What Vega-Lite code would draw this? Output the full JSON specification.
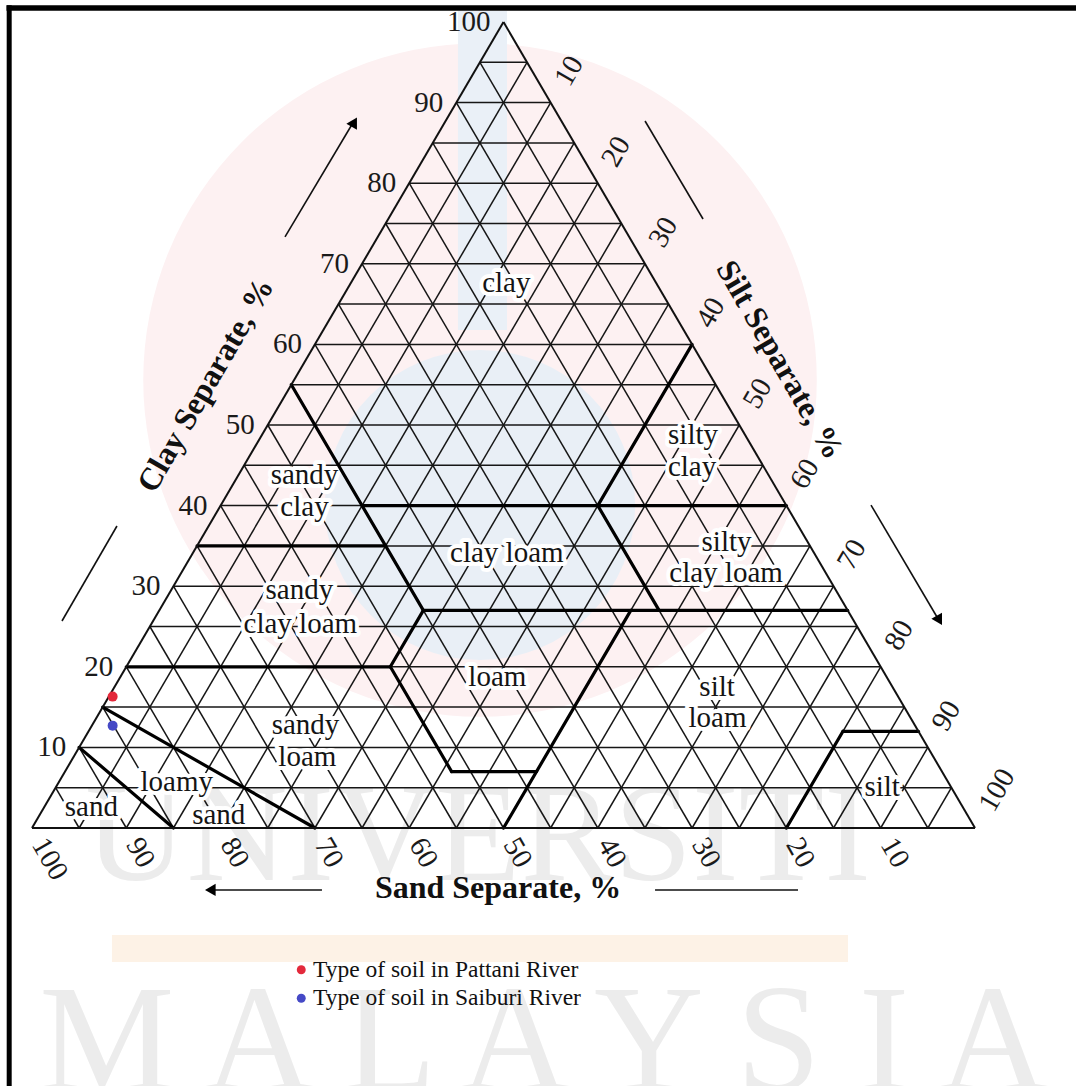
{
  "$schema": "https://vega.github.io/schema/vega-lite/v6.json",
  "width": 1076,
  "height": 1086,
  "padding": 0,
  "autosize": {"type": "none"},
  "background": "white",
  "config": {"view": {"stroke": null}, "text": {"font": "Liberation Serif"}},
  "data": {"values": [{"k": 1}]},
  "datasets": {
    "grid": [
      {"s1": 95, "c1": 5, "s2": 0, "c2": 5}, {"s1": 90, "c1": 10, "s2": 0, "c2": 10}, {"s1": 85, "c1": 15, "s2": 0, "c2": 15},
      {"s1": 80, "c1": 20, "s2": 0, "c2": 20}, {"s1": 75, "c1": 25, "s2": 0, "c2": 25}, {"s1": 70, "c1": 30, "s2": 0, "c2": 30},
      {"s1": 65, "c1": 35, "s2": 0, "c2": 35}, {"s1": 60, "c1": 40, "s2": 0, "c2": 40}, {"s1": 55, "c1": 45, "s2": 0, "c2": 45},
      {"s1": 50, "c1": 50, "s2": 0, "c2": 50}, {"s1": 45, "c1": 55, "s2": 0, "c2": 55}, {"s1": 40, "c1": 60, "s2": 0, "c2": 60},
      {"s1": 35, "c1": 65, "s2": 0, "c2": 65}, {"s1": 30, "c1": 70, "s2": 0, "c2": 70}, {"s1": 25, "c1": 75, "s2": 0, "c2": 75},
      {"s1": 20, "c1": 80, "s2": 0, "c2": 80}, {"s1": 15, "c1": 85, "s2": 0, "c2": 85}, {"s1": 10, "c1": 90, "s2": 0, "c2": 90},
      {"s1": 5, "c1": 95, "s2": 0, "c2": 95},
      {"s1": 5, "c1": 0, "s2": 5, "c2": 95}, {"s1": 10, "c1": 0, "s2": 10, "c2": 90}, {"s1": 15, "c1": 0, "s2": 15, "c2": 85},
      {"s1": 20, "c1": 0, "s2": 20, "c2": 80}, {"s1": 25, "c1": 0, "s2": 25, "c2": 75}, {"s1": 30, "c1": 0, "s2": 30, "c2": 70},
      {"s1": 35, "c1": 0, "s2": 35, "c2": 65}, {"s1": 40, "c1": 0, "s2": 40, "c2": 60}, {"s1": 45, "c1": 0, "s2": 45, "c2": 55},
      {"s1": 50, "c1": 0, "s2": 50, "c2": 50}, {"s1": 55, "c1": 0, "s2": 55, "c2": 45}, {"s1": 60, "c1": 0, "s2": 60, "c2": 40},
      {"s1": 65, "c1": 0, "s2": 65, "c2": 35}, {"s1": 70, "c1": 0, "s2": 70, "c2": 30}, {"s1": 75, "c1": 0, "s2": 75, "c2": 25},
      {"s1": 80, "c1": 0, "s2": 80, "c2": 20}, {"s1": 85, "c1": 0, "s2": 85, "c2": 15}, {"s1": 90, "c1": 0, "s2": 90, "c2": 10},
      {"s1": 95, "c1": 0, "s2": 95, "c2": 5},
      {"s1": 95, "c1": 0, "s2": 0, "c2": 95}, {"s1": 90, "c1": 0, "s2": 0, "c2": 90}, {"s1": 85, "c1": 0, "s2": 0, "c2": 85},
      {"s1": 80, "c1": 0, "s2": 0, "c2": 80}, {"s1": 75, "c1": 0, "s2": 0, "c2": 75}, {"s1": 70, "c1": 0, "s2": 0, "c2": 70},
      {"s1": 65, "c1": 0, "s2": 0, "c2": 65}, {"s1": 60, "c1": 0, "s2": 0, "c2": 60}, {"s1": 55, "c1": 0, "s2": 0, "c2": 55},
      {"s1": 50, "c1": 0, "s2": 0, "c2": 50}, {"s1": 45, "c1": 0, "s2": 0, "c2": 45}, {"s1": 40, "c1": 0, "s2": 0, "c2": 40},
      {"s1": 35, "c1": 0, "s2": 0, "c2": 35}, {"s1": 30, "c1": 0, "s2": 0, "c2": 30}, {"s1": 25, "c1": 0, "s2": 0, "c2": 25},
      {"s1": 20, "c1": 0, "s2": 0, "c2": 20}, {"s1": 15, "c1": 0, "s2": 0, "c2": 15}, {"s1": 10, "c1": 0, "s2": 0, "c2": 10},
      {"s1": 5, "c1": 0, "s2": 0, "c2": 5}
    ],
    "edges": [
      {"s1": 100, "c1": 0, "s2": 0, "c2": 0},
      {"s1": 100, "c1": 0, "s2": 0, "c2": 100},
      {"s1": 0, "c1": 0, "s2": 0, "c2": 100}
    ],
    "bounds": [
      {"s1": 45, "c1": 55, "s2": 45, "c2": 27},
      {"s1": 0, "c1": 60, "s2": 20, "c2": 40},
      {"s1": 45, "c1": 40, "s2": 0, "c2": 40},
      {"s1": 65, "c1": 35, "s2": 45, "c2": 35},
      {"s1": 20, "c1": 40, "s2": 20, "c2": 27},
      {"s1": 45, "c1": 27, "s2": 0, "c2": 27},
      {"s1": 80, "c1": 20, "s2": 52, "c2": 20},
      {"s1": 52, "c1": 20, "s2": 45, "c2": 27},
      {"s1": 52, "c1": 20, "s2": 52, "c2": 7},
      {"s1": 52, "c1": 7, "s2": 43, "c2": 7},
      {"s1": 50, "c1": 0, "s2": 23, "c2": 27},
      {"s1": 20, "c1": 0, "s2": 8, "c2": 12},
      {"s1": 8, "c1": 12, "s2": 0, "c2": 12},
      {"s1": 85, "c1": 15, "s2": 70, "c2": 0},
      {"s1": 90, "c1": 10, "s2": 85, "c2": 0}
    ],
    "classes": [
      {"label": "clay", "sand": 15.9, "clay": 67.6},
      {"label": "sandy", "sand": 49.2, "clay": 43.8},
      {"label": "clay", "sand": 51.2, "clay": 39.8},
      {"label": "silty", "sand": 5.5, "clay": 48.8},
      {"label": "clay", "sand": 7.6, "clay": 44.8},
      {"label": "clay loam", "sand": 32.6, "clay": 34.1},
      {"label": "silty", "sand": 8.6, "clay": 35.5},
      {"label": "clay loam", "sand": 10.6, "clay": 31.6},
      {"label": "sandy", "sand": 56.9, "clay": 29.5},
      {"label": "clay loam", "sand": 58.9, "clay": 25.3},
      {"label": "loam", "sand": 41.3, "clay": 18.7},
      {"label": "silt", "sand": 18.6, "clay": 17.5},
      {"label": "loam", "sand": 20.5, "clay": 13.6},
      {"label": "sandy", "sand": 64.6, "clay": 12.8},
      {"label": "loam", "sand": 66.4, "clay": 8.8},
      {"label": "loamy", "sand": 81.8, "clay": 5.7},
      {"label": "sand", "sand": 92.4, "clay": 2.6},
      {"label": "sand", "sand": 79.4, "clay": 1.6},
      {"label": "silt", "sand": 7.3, "clay": 5.1}
    ],
    "percent": [
      {"pct": 10}, {"pct": 20}, {"pct": 30}, {"pct": 40}, {"pct": 50},
      {"pct": 60}, {"pct": 70}, {"pct": 80}, {"pct": 90}, {"pct": 100}
    ],
    "samples": [
      {"river": "Type of soil in Pattani River", "sand": 83.3, "clay": 16.3},
      {"river": "Type of soil in Saiburi River", "sand": 85.1, "clay": 12.7}
    ]
  },
  "layer": [
    {
      "mark": {"type": "circle", "size": 453646, "color": "#fdf1f2", "opacity": 1},
      "encoding": {
        "x": {"datum": 47.51, "type": "quantitative", "scale": {"domain": [-3.3934, 110.7105], "nice": false, "zero": false}, "axis": null},
        "y": {"datum": 55.58, "type": "quantitative", "scale": {"domain": [-32.0099, 102.7295], "nice": false, "zero": false}, "axis": null}
      }
    },
    {
      "mark": {"type": "rect", "color": "#eaf0f7"},
      "encoding": {
        "x": {"datum": 45.17, "type": "quantitative", "scale": {"domain": [-3.3934, 110.7105], "nice": false, "zero": false}, "axis": null},
        "x2": {"datum": 50.37},
        "y": {"datum": 101.36, "type": "quantitative", "scale": {"domain": [-32.0099, 102.7295], "nice": false, "zero": false}, "axis": null},
        "y2": {"datum": 61.79}
      }
    },
    {
      "mark": {"type": "circle", "size": 96211, "color": "#e9eff6", "opacity": 1},
      "encoding": {
        "x": {"datum": 47.51, "type": "quantitative", "scale": {"domain": [-3.3934, 110.7105], "nice": false, "zero": false}, "axis": null},
        "y": {"datum": 40.07, "type": "quantitative", "scale": {"domain": [-32.0099, 102.7295], "nice": false, "zero": false}, "axis": null}
      }
    },
    {
      "mark": {"type": "rect", "color": "#fdf2e6"},
      "encoding": {
        "x": {"datum": 8.48, "type": "quantitative", "scale": {"domain": [-3.3934, 110.7105], "nice": false, "zero": false}, "axis": null},
        "x2": {"datum": 86.53},
        "y": {"datum": -13.28, "type": "quantitative", "scale": {"domain": [-32.0099, 102.7295], "nice": false, "zero": false}, "axis": null},
        "y2": {"datum": -16.63}
      }
    },
    {
      "mark": {"type": "text", "text": "UNIVERSITI", "fontSize": 140, "color": "#ececec", "align": "center", "baseline": "alphabetic"},
      "encoding": {
        "x": {"datum": 47.3, "type": "quantitative", "scale": {"domain": [-3.3934, 110.7105], "nice": false, "zero": false}, "axis": null},
        "y": {"datum": -6.45, "type": "quantitative", "scale": {"domain": [-32.0099, 102.7295], "nice": false, "zero": false}, "axis": null}
      }
    },
    {
      "mark": {"type": "text", "text": "M A L A Y S I A", "fontSize": 152, "color": "#ececec", "align": "center", "baseline": "alphabetic"},
      "encoding": {
        "x": {"datum": 54.3, "type": "quantitative", "scale": {"domain": [-3.3934, 110.7105], "nice": false, "zero": false}, "axis": null},
        "y": {"datum": -32.51, "type": "quantitative", "scale": {"domain": [-32.0099, 102.7295], "nice": false, "zero": false}, "axis": null}
      }
    },
    {
      "data": {"name": "grid"},
      "transform": [
        {"calculate": "100 - datum.s1 - datum.c1 / 2", "as": "u"},
        {"calculate": "100 - datum.s2 - datum.c2 / 2", "as": "u2"}
      ],
      "mark": {"type": "rule", "color": "#161616", "strokeWidth": 1.5},
      "encoding": {
        "x": {"field": "u", "type": "quantitative", "scale": {"domain": [-3.3934, 110.7105], "nice": false, "zero": false}, "axis": null},
        "y": {"field": "c1", "type": "quantitative", "scale": {"domain": [-32.0099, 102.7295], "nice": false, "zero": false}, "axis": null},
        "x2": {"field": "u2"},
        "y2": {"field": "c2"}
      }
    },
    {
      "data": {"name": "classes"},
      "transform": [{"calculate": "100 - datum.sand - datum.clay / 2", "as": "u"}],
      "mark": {"type": "text", "fontSize": 29, "fill": "white", "stroke": "white", "strokeWidth": 8, "strokeJoin": "round", "align": "center", "baseline": "middle"},
      "encoding": {
        "x": {"field": "u", "type": "quantitative", "scale": {"domain": [-3.3934, 110.7105], "nice": false, "zero": false}, "axis": null},
        "y": {"field": "clay", "type": "quantitative", "scale": {"domain": [-32.0099, 102.7295], "nice": false, "zero": false}, "axis": null},
        "text": {"field": "label"}
      }
    },
    {
      "data": {"name": "bounds"},
      "transform": [
        {"calculate": "100 - datum.s1 - datum.c1 / 2", "as": "u"},
        {"calculate": "100 - datum.s2 - datum.c2 / 2", "as": "u2"}
      ],
      "mark": {"type": "rule", "color": "#000000", "strokeWidth": 3.2, "strokeCap": "round"},
      "encoding": {
        "x": {"field": "u", "type": "quantitative", "scale": {"domain": [-3.3934, 110.7105], "nice": false, "zero": false}, "axis": null},
        "y": {"field": "c1", "type": "quantitative", "scale": {"domain": [-32.0099, 102.7295], "nice": false, "zero": false}, "axis": null},
        "x2": {"field": "u2"},
        "y2": {"field": "c2"}
      }
    },
    {
      "data": {"name": "edges"},
      "transform": [
        {"calculate": "100 - datum.s1 - datum.c1 / 2", "as": "u"},
        {"calculate": "100 - datum.s2 - datum.c2 / 2", "as": "u2"}
      ],
      "mark": {"type": "rule", "color": "#111111", "strokeWidth": 2},
      "encoding": {
        "x": {"field": "u", "type": "quantitative", "scale": {"domain": [-3.3934, 110.7105], "nice": false, "zero": false}, "axis": null},
        "y": {"field": "c1", "type": "quantitative", "scale": {"domain": [-32.0099, 102.7295], "nice": false, "zero": false}, "axis": null},
        "x2": {"field": "u2"},
        "y2": {"field": "c2"}
      }
    },
    {
      "data": {"name": "classes"},
      "transform": [{"calculate": "100 - datum.sand - datum.clay / 2", "as": "u"}],
      "mark": {"type": "text", "fontSize": 29, "color": "#141414", "align": "center", "baseline": "middle"},
      "encoding": {
        "x": {"field": "u", "type": "quantitative", "scale": {"domain": [-3.3934, 110.7105], "nice": false, "zero": false}, "axis": null},
        "y": {"field": "clay", "type": "quantitative", "scale": {"domain": [-32.0099, 102.7295], "nice": false, "zero": false}, "axis": null},
        "text": {"field": "label"}
      }
    },
    {
      "data": {"name": "percent"},
      "transform": [{"calculate": "datum.pct / 2", "as": "u"}],
      "mark": {"type": "text", "fontSize": 29, "color": "#1a1a1a", "align": "right", "baseline": "middle", "dx": -13},
      "encoding": {
        "x": {"field": "u", "type": "quantitative", "scale": {"domain": [-3.3934, 110.7105], "nice": false, "zero": false}, "axis": null},
        "y": {"field": "pct", "type": "quantitative", "scale": {"domain": [-32.0099, 102.7295], "nice": false, "zero": false}, "axis": null},
        "text": {"field": "pct", "type": "quantitative", "format": "d"}
      }
    },
    {
      "data": {"name": "percent"},
      "transform": [
        {"calculate": "50 + datum.pct / 2", "as": "u"},
        {"calculate": "100 - datum.pct", "as": "c"}
      ],
      "mark": {"type": "text", "fontSize": 29, "color": "#1a1a1a", "align": "left", "baseline": "middle", "angle": 300, "dx": 22},
      "encoding": {
        "x": {"field": "u", "type": "quantitative", "scale": {"domain": [-3.3934, 110.7105], "nice": false, "zero": false}, "axis": null},
        "y": {"field": "c", "type": "quantitative", "scale": {"domain": [-32.0099, 102.7295], "nice": false, "zero": false}, "axis": null},
        "text": {"field": "pct", "type": "quantitative", "format": "d"}
      }
    },
    {
      "data": {"name": "percent"},
      "transform": [
        {"calculate": "100 - datum.pct", "as": "u"},
        {"calculate": "0", "as": "c"}
      ],
      "mark": {"type": "text", "fontSize": 29, "color": "#1a1a1a", "align": "left", "baseline": "middle", "angle": 60, "dx": 14},
      "encoding": {
        "x": {"field": "u", "type": "quantitative", "scale": {"domain": [-3.3934, 110.7105], "nice": false, "zero": false}, "axis": null},
        "y": {"field": "c", "type": "quantitative", "scale": {"domain": [-32.0099, 102.7295], "nice": false, "zero": false}, "axis": null},
        "text": {"field": "pct", "type": "quantitative", "format": "d"}
      }
    },
    {
      "mark": {"type": "text", "text": "Clay Separate, %", "fontSize": 32, "fontWeight": "bold", "color": "#111111", "align": "center", "baseline": "middle", "angle": 300},
      "encoding": {
        "x": {"datum": 18.42, "type": "quantitative", "scale": {"domain": [-3.3934, 110.7105], "nice": false, "zero": false}, "axis": null},
        "y": {"datum": 54.94, "type": "quantitative", "scale": {"domain": [-32.0099, 102.7295], "nice": false, "zero": false}, "axis": null}
      }
    },
    {
      "mark": {"type": "text", "text": "Silt Separate, %", "fontSize": 32, "fontWeight": "bold", "color": "#111111", "align": "center", "baseline": "middle", "angle": 60},
      "encoding": {
        "x": {"datum": 79.32, "type": "quantitative", "scale": {"domain": [-3.3934, 110.7105], "nice": false, "zero": false}, "axis": null},
        "y": {"datum": 58.07, "type": "quantitative", "scale": {"domain": [-32.0099, 102.7295], "nice": false, "zero": false}, "axis": null}
      }
    },
    {
      "mark": {"type": "text", "text": "Sand Separate, %", "fontSize": 32, "fontWeight": "bold", "color": "#111111", "align": "center", "baseline": "middle"},
      "encoding": {
        "x": {"datum": 49.42, "type": "quantitative", "scale": {"domain": [-3.3934, 110.7105], "nice": false, "zero": false}, "axis": null},
        "y": {"datum": -7.4, "type": "quantitative", "scale": {"domain": [-32.0099, 102.7295], "nice": false, "zero": false}, "axis": null}
      }
    },
    {
      "mark": {"type": "rule", "color": "#111111", "strokeWidth": 1.6},
      "encoding": {
        "x": {"datum": 26.83, "type": "quantitative", "scale": {"domain": [-3.3934, 110.7105], "nice": false, "zero": false}, "axis": null}, "x2": {"datum": 34.15},
        "y": {"datum": 73.33, "type": "quantitative", "scale": {"domain": [-32.0099, 102.7295], "nice": false, "zero": false}, "axis": null}, "y2": {"datum": 87.72}
      }
    },
    {
      "mark": {"type": "point", "shape": "triangle-up", "filled": true, "size": 150, "angle": 30, "color": "#000000", "opacity": 1},
      "encoding": {
        "x": {"datum": 34.18, "type": "quantitative", "scale": {"domain": [-3.3934, 110.7105], "nice": false, "zero": false}, "axis": null},
        "y": {"datum": 87.58, "type": "quantitative", "scale": {"domain": [-32.0099, 102.7295], "nice": false, "zero": false}, "axis": null}
      }
    },
    {
      "mark": {"type": "rule", "color": "#111111", "strokeWidth": 1.6},
      "encoding": {
        "x": {"datum": 3.18, "type": "quantitative", "scale": {"domain": [-3.3934, 110.7105], "nice": false, "zero": false}, "axis": null}, "x2": {"datum": 9.01},
        "y": {"datum": 25.68, "type": "quantitative", "scale": {"domain": [-32.0099, 102.7295], "nice": false, "zero": false}, "axis": null}, "y2": {"datum": 37.47}
      }
    },
    {
      "mark": {"type": "rule", "color": "#111111", "strokeWidth": 1.6},
      "encoding": {
        "x": {"datum": 65.01, "type": "quantitative", "scale": {"domain": [-3.3934, 110.7105], "nice": false, "zero": false}, "axis": null}, "x2": {"datum": 71.16},
        "y": {"datum": 87.72, "type": "quantitative", "scale": {"domain": [-32.0099, 102.7295], "nice": false, "zero": false}, "axis": null}, "y2": {"datum": 75.56}
      }
    },
    {
      "mark": {"type": "rule", "color": "#111111", "strokeWidth": 1.6},
      "encoding": {
        "x": {"datum": 88.97, "type": "quantitative", "scale": {"domain": [-3.3934, 110.7105], "nice": false, "zero": false}, "axis": null}, "x2": {"datum": 95.97},
        "y": {"datum": 40.07, "type": "quantitative", "scale": {"domain": [-32.0099, 102.7295], "nice": false, "zero": false}, "axis": null}, "y2": {"datum": 26.18}
      }
    },
    {
      "mark": {"type": "point", "shape": "triangle-down", "filled": true, "size": 150, "angle": -30, "color": "#000000", "opacity": 1},
      "encoding": {
        "x": {"datum": 96.22, "type": "quantitative", "scale": {"domain": [-3.3934, 110.7105], "nice": false, "zero": false}, "axis": null},
        "y": {"datum": 25.76, "type": "quantitative", "scale": {"domain": [-32.0099, 102.7295], "nice": false, "zero": false}, "axis": null}
      }
    },
    {
      "mark": {"type": "rule", "color": "#111111", "strokeWidth": 1.6},
      "encoding": {
        "x": {"datum": 30.75, "type": "quantitative", "scale": {"domain": [-3.3934, 110.7105], "nice": false, "zero": false}, "axis": null}, "x2": {"datum": 19.09},
        "y": {"datum": -7.69, "type": "quantitative", "scale": {"domain": [-32.0099, 102.7295], "nice": false, "zero": false}, "axis": null}
      }
    },
    {
      "mark": {"type": "point", "shape": "triangle-left", "filled": true, "size": 150, "color": "#000000", "opacity": 1},
      "encoding": {
        "x": {"datum": 18.91, "type": "quantitative", "scale": {"domain": [-3.3934, 110.7105], "nice": false, "zero": false}, "axis": null},
        "y": {"datum": -7.69, "type": "quantitative", "scale": {"domain": [-32.0099, 102.7295], "nice": false, "zero": false}, "axis": null}
      }
    },
    {
      "mark": {"type": "rule", "color": "#111111", "strokeWidth": 1.6},
      "encoding": {
        "x": {"datum": 66.07, "type": "quantitative", "scale": {"domain": [-3.3934, 110.7105], "nice": false, "zero": false}, "axis": null}, "x2": {"datum": 81.23},
        "y": {"datum": -7.69, "type": "quantitative", "scale": {"domain": [-32.0099, 102.7295], "nice": false, "zero": false}, "axis": null}
      }
    },
    {
      "mark": {"type": "rule", "color": "#000000", "strokeWidth": 5.5},
      "encoding": {
        "x": {"datum": -2.704, "type": "quantitative", "scale": {"domain": [-3.3934, 110.7105], "nice": false, "zero": false}, "axis": null}, "x2": {"datum": 110.7105},
        "y": {"datum": 101.737, "type": "quantitative", "scale": {"domain": [-32.0099, 102.7295], "nice": false, "zero": false}, "axis": null}
      }
    },
    {
      "mark": {"type": "rule", "color": "#000000", "strokeWidth": 5},
      "encoding": {
        "x": {"datum": -2.418, "type": "quantitative", "scale": {"domain": [-3.3934, 110.7105], "nice": false, "zero": false}, "axis": null},
        "y": {"datum": -32.0099, "type": "quantitative", "scale": {"domain": [-32.0099, 102.7295], "nice": false, "zero": false}, "axis": null}, "y2": {"datum": 102.07}
      }
    },
    {
      "data": {"name": "samples"},
      "transform": [{"calculate": "100 - datum.sand - datum.clay / 2", "as": "u"}],
      "mark": {"type": "circle", "size": 100, "opacity": 1},
      "encoding": {
        "x": {"field": "u", "type": "quantitative", "scale": {"domain": [-3.3934, 110.7105], "nice": false, "zero": false}, "axis": null},
        "y": {"field": "clay", "type": "quantitative", "scale": {"domain": [-32.0099, 102.7295], "nice": false, "zero": false}, "axis": null},
        "color": {
          "field": "river",
          "type": "nominal",
          "scale": {"domain": ["Type of soil in Pattani River", "Type of soil in Saiburi River"], "range": ["#e3293b", "#4549c6"]},
          "legend": {
            "orient": "none",
            "legendX": 289.5,
            "legendY": 958,
            "title": null,
            "padding": 0,
            "symbolType": "circle",
            "symbolSize": 80,
            "symbolStrokeWidth": 0,
            "labelFont": "Liberation Serif",
            "labelFontSize": 23.5,
            "labelColor": "#111111",
            "labelOffset": 0,
            "rowPadding": 3.5,
            "labelLimit": 400
          }
        }
      }
    }
  ]
}
